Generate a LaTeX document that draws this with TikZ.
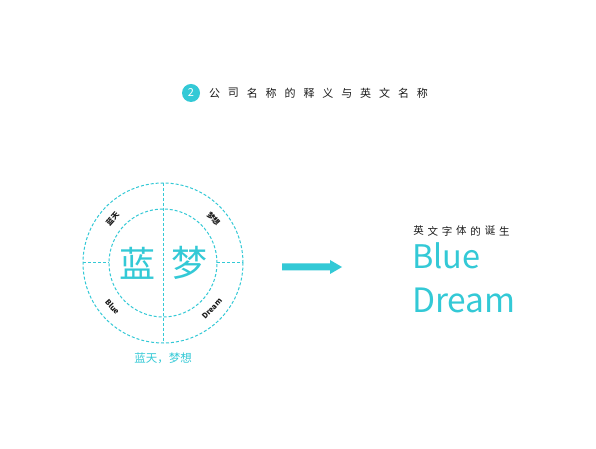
\documentclass[tikz,border=0pt]{standalone}
\usepackage{fontspec}
\usetikzlibrary{calc}
\setmainfont{Noto Sans CJK SC}
\newfontfamily\cjk{Noto Sans CJK SC}
\definecolor{cy}{HTML}{33C9D6}
\definecolor{ink}{HTML}{1A1A1A}
\tikzset{
  dashline/.style={cy, line width=1pt, dash pattern=on 3pt off 2pt},
  smalllabel/.style={font=\cjk\bfseries\fontsize{7.5}{9}\selectfont, text=ink, inner sep=0pt},
  headchar/.style={font=\cjk\fontsize{11}{12}\selectfont, text=ink, inner sep=0pt},
  bigchar/.style={font=\cjk\fontsize{36}{38}\selectfont, text=cy, inner sep=0pt},
  bigword/.style={font=\cjk\fontsize{32.5}{34}\selectfont, text=cy, inner sep=0pt, anchor=base west}
}
\begin{document}
\begin{tikzpicture}[x=1pt,y=1pt]
\useasboundingbox (0,0) rectangle (596,449);
\fill[white] (0,0) rectangle (596,449);
% header
\node[circle, fill=cy, minimum size=18pt, inner sep=0pt, text=white, font=\cjk\fontsize{11}{12}\selectfont] (num) at (191,356) {2};
\foreach \c [count=\i from 0] in {公,司,名,称,的,释,义,与,英,文,名,称}{
  \node[headchar] (h\i) at ({214.5+18.9*\i},356) {\c};
}
% circle diagram
\coordinate (c) at (163,186);
\draw[dashline] (c) circle (80);
\draw[dashline] (c) circle (54);
\coordinate (vt) at (163,266);
\coordinate (vb) at (163,106);
\draw[dashline] (vt) -- (vb);
\coordinate (hl1) at (83,186); \coordinate (hl2) at (109,186);
\coordinate (hr1) at (217,186); \coordinate (hr2) at (243,186);
\draw[dashline] (hl1) -- (hl2);
\draw[dashline] (hr1) -- (hr2);
\node[bigchar] (lan) at (137,186) {蓝};
\node[bigchar] (meng) at (189,186) {梦};
\node[smalllabel, rotate=48] (l1) at ($(c)+(139:67)$) {蓝天};
\node[smalllabel, rotate=-48] (l2) at ($(c)+(41:67)$) {梦想};
\node[smalllabel, rotate=-48] (l3) at ($(c)+(221:67)$) {Blue};
\node[smalllabel, rotate=47] (l4) at ($(c)+(317:67)$) {Dream};
\node[font=\cjk\fontsize{11.5}{12}\selectfont, text=cy, inner sep=0pt] (cap) at (163,91) {蓝天，梦想};
% arrow
\fill[cy] (282,178.5) -- (330,178.5) -- (330,175) -- (342,182) -- (330,189) -- (330,185.5) -- (282,185.5) -- cycle;
% right text
\foreach \c [count=\i from 0] in {英,文,字,体,的,诞,生}{
  \node[headchar, font=\cjk\fontsize{10.5}{12}\selectfont] (r\i) at ({418.5+14.3*\i},218) {\c};
}
\node[bigword] (blue) at (412,180) {Blue};
\node[bigword, font=\cjk\fontsize{33.5}{34}\selectfont] (dream) at (412,136) {Dream};
\end{tikzpicture}
\end{document}
